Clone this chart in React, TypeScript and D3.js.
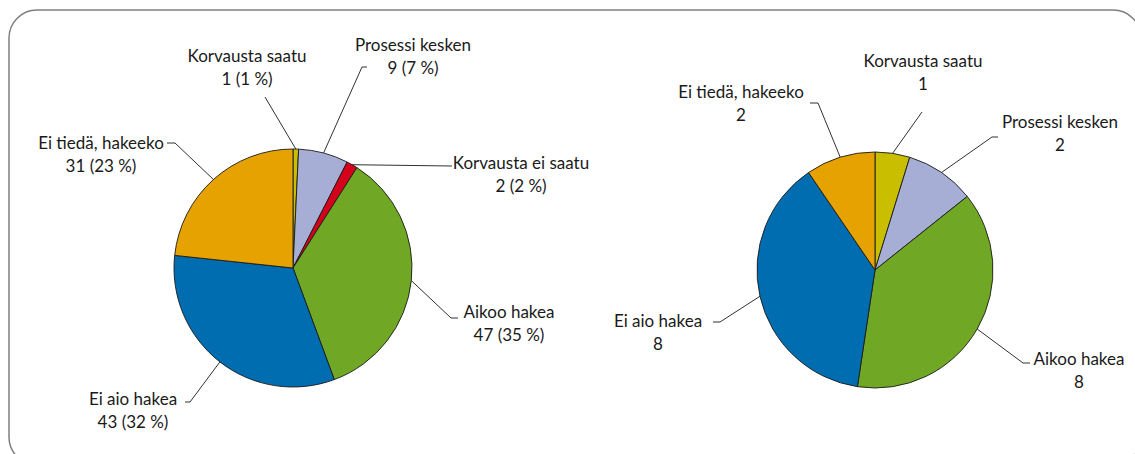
import React from "react";
import * as d3 from "d3";

// luokat ja arvot
const categories = [
  "Korvausta saatu",
  "Prosessi kesken",
  "Korvausta ei saatu",
  "Aikoo hakea",
  "Ei aio hakea",
  "Ei tiedä, hakeeko",
];
const leftValues = [1, 9, 2, 47, 43, 31];
const rightValues = [1, 2, 0, 8, 8, 2];
const sliceColors = ["#C9BE00", "#A6AED6", "#D5001C", "#70A825", "#006DB0", "#E6A200"];

/* -------------------- layout (label centre + leader elbow) -------------------- */
type Lab = { x: number; y: number; ex: number; ey: number; hx: number };
const leftLabels: Lab[] = [
  { x: 247, y: 62, ex: 265, ey: 97, hx: 265 },
  { x: 413, y: 51, ex: 362, ey: 67, hx: 367 },
  { x: 521, y: 169, ex: 452, ey: 166, hx: 452 },
  { x: 509, y: 318, ex: 451, ey: 318, hx: 458 },
  { x: 133, y: 405, ex: 190, ey: 402, hx: 185 },
  { x: 101, y: 149, ex: 175, ey: 143, hx: 167 },
];
const rightLabels: (Lab | null)[] = [
  { x: 923, y: 67, ex: 922, ey: 112, hx: 922 },
  { x: 1060, y: 128, ex: 992, ey: 137, hx: 998 },
  null,
  { x: 1079, y: 365, ex: 1023, ey: 363, hx: 1030 },
  { x: 658, y: 327, ex: 720, ey: 322, hx: 713 },
  { x: 741, y: 98, ex: 818, ey: 103, hx: 810 },
];

const W = 1135;
const H = 454;
const font = "Lato, 'Open Sans', sans-serif";

function Pie({ values, cx, cy, r, labels, showPct }: {
  values: number[]; cx: number; cy: number; r: number;
  labels: (Lab | null)[]; showPct: boolean;
}) {
  const total = d3.sum(values);
  const arcs = d3.pie<number>().sort(null).value(d => d)(values);
  const arc = d3.arc<d3.PieArcDatum<number>>().innerRadius(0).outerRadius(r);

  return (
    <g>
      <g transform={`translate(${cx},${cy})`}>
        {arcs.map((a, i) => a.value > 0 && (
          <path key={i} d={arc(a) || ""} fill={sliceColors[i]} stroke="#1a1a1a" strokeWidth={0.9} />
        ))}
      </g>
      {arcs.map((a, i) => {
        const l = labels[i];
        if (!l || a.value <= 0) return null;
        const mid = (a.startAngle + a.endAngle) / 2;
        const px = cx + r * Math.sin(mid);
        const py = cy - r * Math.cos(mid);
        const second = showPct
          ? `${a.value} (${Math.round((a.value / total) * 100)} %)`
          : `${a.value}`;
        return (
          <g key={"l" + i}>
            <polyline
              points={`${px},${py} ${l.ex},${l.ey} ${l.hx},${l.ey}`}
              fill="none" stroke="#1a1a1a" strokeWidth={0.9}
            />
            <text x={l.x} y={l.y} textAnchor="middle" fontSize={17} fill="#1a1a1a" fontFamily={font}>
              {categories[i]}
            </text>
            <text x={l.x} y={l.y + 23} textAnchor="middle" fontSize={17} fill="#1a1a1a" fontFamily={font}>
              {second}
            </text>
          </g>
        );
      })}
    </g>
  );
}

export default function App() {
  return (
    <svg width={W} height={H} style={{ position: "absolute", left: 0, top: 0, background: "#fff" }}>
      <rect x={9} y={10} width={1132} height={455} rx={28} ry={28}
        fill="#fff" stroke="#7f7f7f" strokeWidth={1.5} />
      <Pie values={leftValues} cx={293} cy={268} r={119} labels={leftLabels} showPct />
      <Pie values={rightValues} cx={875} cy={270} r={118} labels={rightLabels} showPct={false} />
    </svg>
  );
}
